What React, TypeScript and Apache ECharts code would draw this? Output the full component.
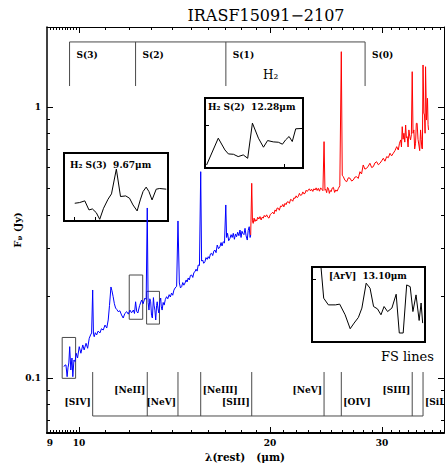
import React, { useEffect, useRef } from 'react';
import * as echarts from 'echarts';

// ---------- spectrum (rest wavelength in micron, flux density in Jy) ----------
const blueLambda = [
  9.47, 9.51, 9.54, 9.58, 9.61, 9.64, 9.67, 9.71, 9.75, 9.78, 9.82, 9.86, 9.90, 9.95, 10.01, 10.07,
  10.14, 10.19, 10.26, 10.32, 10.38, 10.43, 10.47, 10.51, 10.54, 10.57, 10.61, 10.66, 10.72, 10.79,
  10.85, 10.92, 10.99, 11.06, 11.12, 11.17, 11.23, 11.27, 11.32, 11.37, 11.42, 11.47, 11.53, 11.60,
  11.67, 11.74, 11.81, 11.89, 11.96, 12.03, 12.10, 12.18, 12.23, 12.28, 12.33, 12.38, 12.46, 12.55,
  12.62, 12.70, 12.76, 12.81, 12.85, 12.89, 12.93, 12.97, 13.01, 13.05, 13.10, 13.13, 13.17, 13.21,
  13.25, 13.28, 13.32, 13.36, 13.41, 13.45, 13.48, 13.52, 13.57, 13.62, 13.68, 13.74, 13.80, 13.87,
  13.93, 13.99, 14.05, 14.11, 14.17, 14.25, 14.32, 14.39, 14.45, 14.51, 14.57, 14.63, 14.69, 14.75,
  14.80, 14.86, 14.92, 14.98, 15.05, 15.11, 15.17, 15.23, 15.29, 15.35, 15.41, 15.48, 15.55, 15.60,
  15.66, 15.72, 15.79, 15.85, 15.92, 15.98, 16.04, 16.11, 16.18, 16.24, 16.31, 16.37, 16.44, 16.51,
  16.59, 16.67, 16.74, 16.80, 16.87, 16.95, 17.03, 17.08, 17.14, 17.21, 17.29, 17.36, 17.43, 17.50,
  17.57, 17.64, 17.71, 17.78, 17.86, 17.93, 18.00, 18.06, 18.11, 18.19, 18.26, 18.33, 18.41, 18.47,
  18.54, 18.60, 18.64,
];
const blueFlux = [
  0.1101, 0.1117, 0.1117, 0.1011, 0.1090, 0.1136, 0.1305, 0.1070, 0.1185, 0.1011, 0.1165, 0.1149, 0.1234, 0.1185, 0.1305, 0.1234,
  0.1324, 0.1269, 0.1343, 0.1287, 0.1401, 0.1441, 0.1466, 0.2112, 0.1450, 0.1420, 0.1470, 0.1441, 0.1490, 0.1466,
  0.1520, 0.1503, 0.1568, 0.1529, 0.1637, 0.1850, 0.2167, 0.2100, 0.1995, 0.1880, 0.1812, 0.1790, 0.1757, 0.1770,
  0.1708, 0.1665, 0.1730, 0.1757, 0.1720, 0.1781, 0.1740, 0.1781, 0.1730, 0.1911, 0.1760, 0.1737, 0.1850, 0.1939,
  0.1880, 0.1972, 0.1950, 0.4240, 0.1900, 0.1781, 0.1960, 0.1911, 0.1700, 0.1665, 0.1980, 0.1858, 0.1780, 0.1637,
  0.1850, 0.1911, 0.1800, 0.1737, 0.1920, 0.1972, 0.1830, 0.1781, 0.1900, 0.1858, 0.1950, 0.1995, 0.1960, 0.2030,
  0.1990, 0.2059, 0.2020, 0.2110, 0.2148, 0.2180, 0.3797, 0.2242, 0.2150, 0.2172, 0.2250, 0.2200, 0.2242, 0.2300,
  0.2260, 0.2339, 0.2300, 0.2390, 0.2399, 0.2350, 0.2450, 0.2467, 0.2520, 0.2480, 0.2612, 0.2600, 0.5771, 0.2700,
  0.2725, 0.2650, 0.2686, 0.2780, 0.2740, 0.2803, 0.2760, 0.2870, 0.2885, 0.2830, 0.2940, 0.2967, 0.2900, 0.3095,
  0.3000, 0.3050, 0.3160, 0.3070, 0.3183, 0.3150, 0.4350, 0.3300, 0.3419, 0.3210, 0.3276, 0.3380, 0.3300, 0.3419,
  0.3250, 0.3400, 0.3321, 0.3450, 0.3350, 0.3516, 0.3300, 0.3480, 0.3419, 0.3380, 0.3567, 0.3350, 0.3229, 0.3500,
  0.3616, 0.3300, 0.3370,
];
const redLambda = [
  18.64, 18.66, 18.71, 18.76, 18.81, 18.87, 18.93, 18.99, 19.05, 19.12, 19.20, 19.28, 19.36, 19.43, 19.51, 19.58,
  19.66, 19.75, 19.83, 19.92, 20.01, 20.11, 20.20, 20.28, 20.36, 20.44, 20.52, 20.60, 20.68, 20.77, 20.86, 20.94,
  21.02, 21.11, 21.19, 21.27, 21.36, 21.45, 21.54, 21.63, 21.71, 21.80, 21.89, 21.98, 22.06, 22.15, 22.24, 22.33,
  22.43, 22.52, 22.61, 22.70, 22.79, 22.88, 22.97, 23.06, 23.15, 23.25, 23.35, 23.44, 23.54, 23.63, 23.72, 23.82,
  23.92, 24.02, 24.12, 24.22, 24.32, 24.40, 24.47, 24.55, 24.63, 24.71, 24.79, 24.87, 24.95, 25.05, 25.16, 25.27,
  25.38, 25.50, 25.62, 25.75, 25.89, 25.98, 26.08, 26.24, 26.40, 26.56, 26.72, 26.88, 27.04, 27.20, 27.37, 27.53,
  27.70, 27.86, 28.03, 28.20, 28.38, 28.55, 28.72, 28.90, 29.07, 29.25, 29.43, 29.61, 29.79, 29.97, 30.15, 30.33,
  30.52, 30.70, 30.89, 31.07, 31.26, 31.45, 31.65, 31.83, 31.97, 32.11, 32.20, 32.29, 32.39, 32.49, 32.59, 32.69,
  32.78, 32.88, 32.98, 33.08, 33.18, 33.28, 33.38, 33.48, 33.58, 33.68, 33.78, 33.89, 33.98, 34.08, 34.19, 34.30,
  34.40, 34.51, 34.59, 34.67, 34.74, 34.82, 34.92, 35.01, 35.08, 35.14, 35.26, 35.39, 35.46, 35.52,
];
const redFlux = [
  0.3370, 0.3830, 0.5229, 0.3800, 0.3720, 0.3890, 0.3780, 0.3840, 0.3800, 0.3920, 0.3860, 0.3940, 0.3830, 0.3920, 0.3890, 0.3980,
  0.3930, 0.4000, 0.3920, 0.3890, 0.4010, 0.4050, 0.4090, 0.4030, 0.4170, 0.4120, 0.4240, 0.4230, 0.4160, 0.4310, 0.4290, 0.4370,
  0.4280, 0.4410, 0.4360, 0.4460, 0.4470, 0.4410, 0.4560, 0.4540, 0.4490, 0.4620, 0.4600, 0.4700, 0.4630, 0.4670, 0.4800, 0.4720,
  0.4740, 0.4860, 0.4780, 0.4800, 0.4930, 0.4880, 0.4940, 0.4990, 0.4900, 0.4970, 0.4880, 0.4990, 0.4940, 0.5030, 0.4920, 0.5010,
  0.4890, 0.5030, 0.4970, 0.4910, 0.7450, 0.4930, 0.4970, 0.4830, 0.5050, 0.5010, 0.4800, 0.4920, 0.4870, 0.5020, 0.5050, 0.4840,
  0.4940, 0.4890, 0.5010, 0.5120, 1.6000, 0.5600, 0.5530, 0.5360, 0.5300, 0.5480, 0.5460, 0.5330, 0.5380, 0.5510, 0.5530, 0.5450,
  0.5770, 0.5660, 0.6110, 0.5900, 0.5940, 0.6050, 0.6200, 0.5980, 0.6020, 0.6220, 0.6280, 0.6120, 0.6200, 0.6330, 0.6470, 0.6310,
  0.6560, 0.6500, 0.6750, 0.6600, 0.6750, 0.6900, 0.7140, 0.6940, 0.7350, 0.7560, 0.7120, 0.8460, 0.7600, 0.8000, 0.7420, 0.8580,
  0.7700, 0.7770, 0.7120, 0.8230, 0.7800, 0.7560, 0.7900, 1.3500, 0.8000, 0.8230, 0.7000, 0.7350, 0.8700, 0.8710, 0.7600, 0.7240,
  0.6900, 0.8230, 0.7600, 0.7040, 0.7000, 1.4290, 0.9500, 0.9340, 0.8000, 1.4080, 0.8950, 1.0770, 0.8600, 0.8230,
];

// ---------- line identifications ----------
const h2Lines = [9.665, 12.279, 17.035, 28.221];
const h2Names = ['S(3)', 'S(2)', 'S(1)', 'S(0)'];
const fsLines = [10.51, 12.81, 14.32, 15.55, 18.71, 24.32, 25.89, 33.48, 34.82];
const fsNames = ['[SIV]', '[NeII]', '[NeV]', '[NeIII]', '[SIII]', '[NeV]', '[OIV]', '[SIII]', '[SiII]'];
const fsRow = [1, 0, 1, 0, 1, 0, 1, 0, 1];
const fsSide = ['left', 'left', 'left', 'right', 'left', 'left', 'right', 'left', 'right'];

// boxes marking the zoomed regions: [lambdaMin, lambdaMax, fluxMin, fluxMax]
const zoomBoxes = [
  [9.41, 9.88, 0.0997, 0.1411],
  [12.0, 12.6, 0.1647, 0.2399],
  [12.78, 13.39, 0.1581, 0.2088],
];

// ---------- ticks ----------
const xTickLabels = [9, 10, 20, 30];
const xMajorTicks = [10, 20, 30];
const xMinorTicks = [
  9.0, 9.1, 9.2, 9.3, 9.4, 9.5, 9.6, 9.7, 9.8, 9.9,
  11, 12, 13, 14, 15, 16, 17, 18, 19,
  21, 22, 23, 24, 25, 26, 27, 28, 29,
  31, 32, 33, 34, 35, 36, 37,
];
const yTickLabels = [0.1, 1];
const yMajorTicks = [0.1, 1];
const yMinorTicks = [0.07, 0.08, 0.09, 0.2, 0.3, 0.4, 0.5, 0.6, 0.7, 0.8, 0.9];

// ---------- insets (relative flux units) ----------
const inset1Lambda = [9.551, 9.565, 9.580, 9.592, 9.602, 9.613, 9.623, 9.634, 9.647, 9.657, 9.671, 9.683, 9.698, 9.709, 9.719, 9.731, 9.740, 9.748, 9.757, 9.765, 9.774, 9.786, 9.796, 9.815];
const inset1Flux = [26.1, 27.1, 29.6, 16.3, 17.7, 12.3, 2.5, 18.7, 32.0, 39.9, 76.4, 36.0, 36.9, 33.5, 23.6, 14.8, 31.0, 43.3, 49.8, 43.3, 31.0, 46.8, 47.8, 46.8];
const inset2Lambda = [12.135, 12.172, 12.193, 12.204, 12.220, 12.235, 12.251, 12.265, 12.280, 12.299, 12.315, 12.328, 12.346, 12.362, 12.375, 12.385, 12.396, 12.406, 12.417, 12.438];
const inset2Flux = [4.3, 42.6, 25.8, 20.1, 19.6, 16.3, 18.7, 13.9, 64.1, 42.6, 29.7, 39.2, 37.3, 36.8, 34.0, 40.2, 45.0, 37.8, 56.0, 56.5];
const inset3Lambda = [12.983, 12.990, 13.002, 13.020, 13.031, 13.045, 13.058, 13.068, 13.079, 13.088, 13.099, 13.109, 13.118, 13.128, 13.137, 13.145, 13.154, 13.165, 13.176, 13.184, 13.194, 13.203, 13.212, 13.219, 13.227, 13.235, 13.240, 13.244];
const inset3Flux = [100.4, 58.4, 49.5, 49.5, 50.5, 36.3, 17.7, 25.2, 32.7, 45.2, 78.4, 71.7, 47.3, 44.2, 36.3, 47.3, 40.6, 45.2, 63.7, 12.0, 12.0, 76.1, 73.8, 40.6, 62.8, 28.7, 52.0, 25.2];

const L = (v: number) => Math.log10(v);
const SERIF = 'DejaVu Serif';
const BR = '#4a4a4a';

const X_MIN = L(8.906);
const X_MAX = L(37.57);
const Y_MIN = -1.203;
const Y_MAX = 0.2952;

const H2_TOP = 1.738, H2_BOT = 1.195, H2_LABEL = 1.556;
const FS_TOP = 0.1052, FS_BASE = 0.0724, FS_UPPER = 0.0903, FS_LOWER = 0.0815;

function mainX(extra: any) {
  return {
    type: 'value', gridIndex: 0, min: X_MIN, max: X_MAX,
    splitLine: { show: false },
    axisLabel: { show: false },
    ...extra,
  };
}
function mainY(extra: any) {
  return {
    type: 'value', gridIndex: 0, min: Y_MIN, max: Y_MAX,
    splitLine: { show: false },
    axisLabel: { show: false },
    ...extra,
  };
}

function buildOption() {
  const tickStyle = { color: '#000', width: 1 };
  const labelFont = { fontFamily: SERIF, fontWeight: 'bold' as const, fontSize: 9, color: '#000' };
  const noLine = { show: false, onZero: false };

  const xAxis: any[] = [
    mainX({
      position: 'bottom',
      axisLine: { show: true, onZero: false, lineStyle: { color: '#000', width: 2 } },
      axisTick: { show: true, inside: true, length: 6, lineStyle: tickStyle, customValues: xMajorTicks.map(L) },
      axisLabel: {
        show: true, margin: 5, ...labelFont,
        customValues: xTickLabels.map(L),
        formatter: (v: number) => String(Math.round(Math.pow(10, v))),
      },
    }),
    mainX({
      position: 'bottom',
      axisLine: noLine,
      axisTick: { show: true, inside: true, length: 3, lineStyle: tickStyle, customValues: xMinorTicks.map(L) },
    }),
    mainX({
      position: 'top',
      axisLine: { show: true, onZero: false, lineStyle: { color: '#000', width: 1 } },
      axisTick: { show: true, inside: true, length: 6, lineStyle: tickStyle, customValues: xMajorTicks.map(L) },
    }),
    mainX({
      position: 'top',
      axisLine: noLine,
      axisTick: { show: true, inside: true, length: 3, lineStyle: tickStyle, customValues: xMinorTicks.map(L) },
    }),
    {
      type: 'value', gridIndex: 1, min: 9.52, max: 9.82, splitLine: { show: false },
      axisLine: noLine, axisLabel: { show: false },
      axisTick: { show: true, inside: true, length: 4, lineStyle: tickStyle, customValues: [9.55, 9.61] },
    },
    {
      type: 'value', gridIndex: 2, min: 12.13, max: 12.44, splitLine: { show: false },
      axisLine: noLine, axisLabel: { show: false },
      axisTick: { show: true, inside: true, length: 4, lineStyle: tickStyle, customValues: [12.38] },
    },
    {
      type: 'value', gridIndex: 3, min: 12.96, max: 13.25, splitLine: { show: false },
      axisLine: noLine, axisLabel: { show: false },
      axisTick: { show: false },
    },
  ];

  const yAxis: any[] = [
    mainY({
      position: 'left',
      axisLine: { show: true, onZero: false, lineStyle: { color: '#000', width: 1.5 } },
      axisTick: { show: true, inside: true, length: 6, lineStyle: tickStyle, customValues: yMajorTicks.map(L) },
      axisLabel: {
        show: true, margin: 6, ...labelFont,
        customValues: yTickLabels.map(L),
        formatter: (v: number) => String(Number(Math.pow(10, v).toPrecision(2))),
      },
    }),
    mainY({
      position: 'left',
      axisLine: noLine,
      axisTick: { show: true, inside: true, length: 3, lineStyle: tickStyle, customValues: yMinorTicks.map(L) },
    }),
    mainY({
      position: 'right',
      axisLine: { show: true, onZero: false, lineStyle: { color: '#000', width: 1 } },
      axisTick: { show: true, inside: true, length: 6, lineStyle: tickStyle, customValues: yMajorTicks.map(L) },
    }),
    mainY({
      position: 'right',
      axisLine: noLine,
      axisTick: { show: true, inside: true, length: 3, lineStyle: tickStyle, customValues: yMinorTicks.map(L) },
    }),
    {
      type: 'value', gridIndex: 1, min: 0, max: 100, splitLine: { show: false },
      axisLine: noLine, axisLabel: { show: false }, axisTick: { show: false },
    },
    {
      type: 'value', gridIndex: 2, min: 0, max: 100, splitLine: { show: false },
      axisLine: noLine, axisLabel: { show: false },
      axisTick: { show: true, inside: true, length: 4, lineStyle: tickStyle, customValues: [61] },
    },
    {
      type: 'value', gridIndex: 3, min: 0, max: 100, splitLine: { show: false },
      axisLine: noLine, axisLabel: { show: false },
      axisTick: { show: true, inside: true, length: 4, lineStyle: tickStyle, customValues: [84] },
    },
  ];

  const insetGrid = (left: number, top: number, width: number, height: number) => ({
    left, top, width, height, show: true, borderColor: '#000', borderWidth: 2, backgroundColor: 'transparent',
  });

  const grid = [
    { left: 47, top: 27, width: 397, height: 406 },
    insetGrid(64, 153, 104, 68),
    insetGrid(205, 98, 98, 70),
    insetGrid(312, 267, 113, 75),
  ];

  const specSeries = (lam: number[], flux: number[], color: string) => ({
    type: 'line', xAxisIndex: 0, yAxisIndex: 0, showSymbol: false, silent: true,
    data: lam.map((l, i) => [L(l), L(flux[i])]),
    lineStyle: { color, width: 1 }, itemStyle: { color }, z: 3,
  });

  const insetSeries = (idx: number, lam: number[], flux: number[]) => ({
    type: 'line', xAxisIndex: idx, yAxisIndex: idx, showSymbol: false, silent: true, clip: true,
    data: lam.map((l, i) => [l, flux[i]]),
    lineStyle: { color: '#000', width: 1 }, itemStyle: { color: '#000' }, z: 2,
  });

  const smallText = (text: string, x: number, y: number, align: string) => ({
    type: 'text', x, y,
    style: { text, fill: '#000', fontFamily: SERIF, fontWeight: 'bold', fontSize: 9, align, verticalAlign: 'middle' },
  });

  const h2Series = {
    type: 'custom', xAxisIndex: 0, yAxisIndex: 0, silent: true, clip: false, z: 4,
    data: h2Lines.map((l, i) => [L(l), i]),
    renderItem: (params: any, api: any) => {
      const i = params.dataIndex;
      const lx = api.value(0);
      const top = api.coord([lx, L(H2_TOP)]);
      const bot = api.coord([lx, L(H2_BOT)]);
      const ly = api.coord([lx, L(H2_LABEL)])[1];
      const children: any[] = [
        { type: 'line', shape: { x1: top[0], y1: top[1], x2: bot[0], y2: bot[1] }, style: { stroke: BR, lineWidth: 1 } },
        smallText(h2Names[i], top[0] + 7, ly, 'left'),
      ];
      if (i === 0) {
        const end = api.coord([L(h2Lines[h2Lines.length - 1]), L(H2_TOP)]);
        children.push({ type: 'line', shape: { x1: top[0], y1: top[1], x2: end[0], y2: end[1] }, style: { stroke: BR, lineWidth: 1 } });
      }
      return { type: 'group', children };
    },
  };

  const fsSeries = {
    type: 'custom', xAxisIndex: 0, yAxisIndex: 0, silent: true, clip: false, z: 4,
    data: fsLines.map((l, i) => [L(l), i]),
    renderItem: (params: any, api: any) => {
      const i = params.dataIndex;
      const lx = api.value(0);
      const top = api.coord([lx, L(FS_TOP)]);
      const bot = api.coord([lx, L(FS_BASE)]);
      const ly = api.coord([lx, L(fsRow[i] === 0 ? FS_UPPER : FS_LOWER)])[1];
      const right = fsSide[i] === 'right';
      const children: any[] = [
        { type: 'line', shape: { x1: top[0], y1: top[1], x2: bot[0], y2: bot[1] }, style: { stroke: BR, lineWidth: 1 } },
        smallText(fsNames[i], top[0] + (right ? 2 : -2), ly, right ? 'left' : 'right'),
      ];
      if (i === 0) {
        const end = api.coord([L(fsLines[fsLines.length - 1]), L(FS_BASE)]);
        children.push({ type: 'line', shape: { x1: bot[0], y1: bot[1], x2: end[0], y2: end[1] }, style: { stroke: BR, lineWidth: 1 } });
      }
      return { type: 'group', children };
    },
  };

  const boxSeries = {
    type: 'custom', xAxisIndex: 0, yAxisIndex: 0, silent: true, clip: false, z: 2,
    data: zoomBoxes.map((b) => [L(b[0]), L(b[2]), L(b[1]), L(b[3])]),
    renderItem: (_p: any, api: any) => {
      const p1 = api.coord([api.value(0), api.value(1)]);
      const p2 = api.coord([api.value(2), api.value(3)]);
      return {
        type: 'rect',
        shape: { x: p1[0], y: p2[1], width: p2[0] - p1[0], height: p1[1] - p2[1] },
        style: { fill: 'none', stroke: BR, lineWidth: 1 },
      };
    },
  };

  const insetTitle = (text: string, x: number, y: number) => ({
    type: 'text', x, y, z: 10,
    style: {
      text, fill: '#000', fontFamily: SERIF, fontWeight: 'bold', fontSize: 9, align: 'left', verticalAlign: 'middle',
    },
  });

  const graphic: any[] = [
    {
      type: 'text', x: 266, y: 15,
      style: { text: 'IRASF15091\u22122107', fill: '#000', fontFamily: SERIF, fontSize: 16, align: 'center', verticalAlign: 'middle' },
    },
    {
      type: 'text', x: 245, y: 457,
      style: { text: '\u03bb(rest)   (\u03bcm)', fill: '#000', fontFamily: SERIF, fontWeight: 'bold', fontSize: 10.5, align: 'center', verticalAlign: 'middle' },
    },
    {
      type: 'text', x: 17, y: 230, rotation: Math.PI / 2,
      style: {
        text: '{a|F}{s|\u03bd}{a| (Jy)}', fill: '#000', align: 'center', verticalAlign: 'middle',
        rich: {
          a: { fontFamily: SERIF, fontWeight: 'bold', fontSize: 10, fill: '#000' },
          s: { fontFamily: SERIF, fontWeight: 'bold', fontSize: 7, fill: '#000', padding: [5, 0, 0, 0] },
        },
      },
    },
    {
      type: 'text', x: 263, y: 75,
      style: { text: 'H\u2082', fill: '#000', fontFamily: SERIF, fontSize: 12, align: 'left', verticalAlign: 'middle' },
    },
    {
      type: 'text', x: 434, y: 356,
      style: { text: 'FS lines', fill: '#000', fontFamily: SERIF, fontSize: 13, align: 'right', verticalAlign: 'middle' },
    },
    insetTitle('H\u2082 S(3)  9.67\u03bcm', 70, 165),
    insetTitle('H\u2082 S(2)  12.28\u03bcm', 208, 107),
    insetTitle('[ArV]  13.10\u03bcm', 329, 276),
  ];

  return {
    animation: false,
    backgroundColor: '#fff',
    grid,
    xAxis,
    yAxis,
    graphic,
    series: [
      boxSeries,
      specSeries(blueLambda, blueFlux, '#0000ff'),
      specSeries(redLambda, redFlux, '#ff0000'),
      h2Series,
      fsSeries,
      insetSeries(4, inset1Lambda, inset1Flux),
      insetSeries(5, inset2Lambda, inset2Flux),
      insetSeries(6, inset3Lambda, inset3Flux),
    ],
  };
}

export default function App() {
  const ref = useRef<HTMLDivElement>(null);
  useEffect(() => {
    if (!ref.current) return;
    const chart = echarts.init(ref.current, null, { renderer: 'svg' });
    chart.setOption(buildOption() as any);
    return () => chart.dispose();
  }, []);
  return (
    <div
      ref={ref}
      style={{ position: 'absolute', left: 0, top: 0, width: 445, height: 466, background: '#fff' }}
    />
  );
}
